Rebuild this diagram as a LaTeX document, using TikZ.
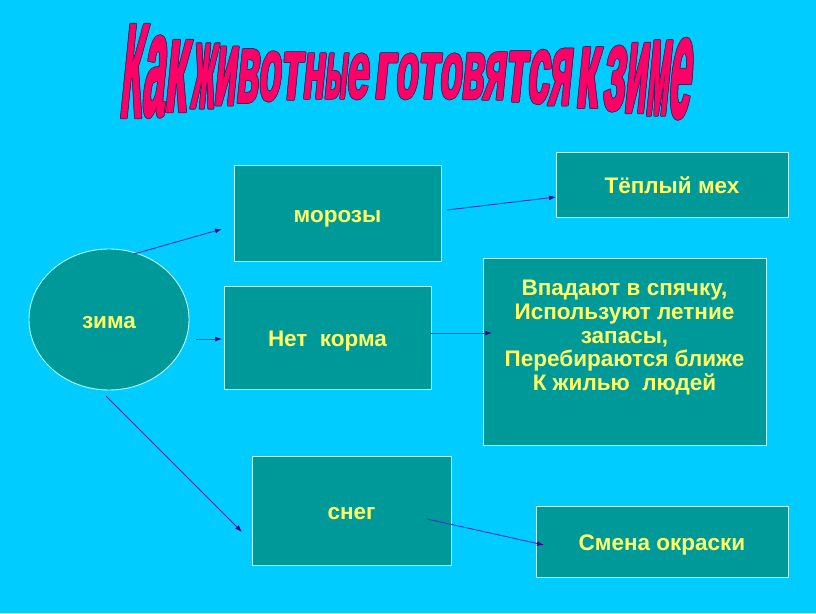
\documentclass[tikz,border=0pt]{standalone}
\usepackage{fontspec}
\usepackage{graphicx}
\setmainfont{Liberation Sans}
\newfontfamily\titlefont[FakeBold=2]{Liberation Sans}
\usepackage{contour}
\usetikzlibrary{arrows.meta,shapes.geometric}
\definecolor{bgcyan}{HTML}{00CCFF}
\definecolor{boxteal}{HTML}{009999}
\definecolor{boxborder}{HTML}{B3FFFF}
\definecolor{txtyellow}{HTML}{FFFF66}
\definecolor{arrowblue}{HTML}{3333CC}
\definecolor{tipviolet}{HTML}{330099}
\definecolor{titlered}{HTML}{FF0066}
\definecolor{titleline}{HTML}{2B2B66}
\contourlength{0.8pt}
\contournumber{8}
% one warped title letter: #1 = lowering, #2 = height, #3 = letter
\newcommand\tlet[3]{\raisebox{-#1pt}{\resizebox{22pt}{#2pt}{#3}}}
\tikzset{
  boxnode/.style={draw=boxborder, line width=0.9pt, fill=boxteal, inner sep=0pt,
    text=txtyellow, font=\bfseries\fontsize{22.5}{23.7}\selectfont,
    text height=22pt, text depth=4pt},
  conn/.style={draw=arrowblue, line width=0.9pt,
    -{Latex[length=7pt,width=5pt,color=tipviolet]}},
}
\begin{document}
\begin{tikzpicture}[x=1pt,y=-1pt]
\fill[bgcyan] (0,0) rectangle (816,613);
\useasboundingbox (0,0) rectangle (816,613);

% title
\node[anchor=base, inner sep=0pt, text=titlered, xslant=0.1, transform shape,
      font=\titlefont\bfseries\fontsize{40}{40}\selectfont] (title) at (408,76)
{\contour{titleline}{\tlet{41}{92}{К}\tlet{39.5}{79}{а}\tlet{35}{70}{к}\hspace{5pt}%
\tlet{31.5}{63}{ж}\tlet{28.5}{57}{и}\tlet{26}{52}{в}\tlet{24}{48}{о}\tlet{23}{46}{т}\tlet{22}{44}{н}\tlet{22}{44}{ы}\tlet{22}{44}{е}\hspace{5pt}%
\tlet{22}{44}{г}\tlet{22}{44}{о}\tlet{22}{44}{т}\tlet{22}{44}{о}\tlet{22.5}{45}{в}\tlet{23}{46}{я}\tlet{25}{49}{т}\tlet{26.5}{52}{с}\tlet{28.5}{55}{я}\hspace{5pt}%
\tlet{31}{59}{к}\hspace{5pt}%
\tlet{33.5}{63}{з}\tlet{36}{68}{и}\tlet{38.5}{73}{м}\tlet{41}{78}{е}}};

% nodes
\node[boxnode, ellipse, minimum width=160pt, minimum height=141pt] (zima) at (109,319.5) {зима};
\node[boxnode, minimum width=207pt, minimum height=96pt] (moroz) at (337.5,213) {морозы};
\node[boxnode, minimum width=207pt, minimum height=103pt] (korm) at (327.5,337.5) {Нет\ \ корма};
\node[boxnode, minimum width=199pt, minimum height=109pt] (sneg) at (351.5,510.5) {снег};
\node[boxnode, minimum width=232pt, minimum height=65pt] (meh) at (672,184.5) {Тёплый мех};
\node[boxnode, minimum width=283pt, minimum height=187pt] (vpad) at (624.5,351.5) {};
\node[anchor=north, inner sep=0pt, align=center, text=txtyellow,
      font=\bfseries\fontsize{22.5}{23.7}\selectfont] (vpadtext) at (624.5,280)
  {Впадают в спячку,\\Используют летние\\запасы,\\Перебираются ближе\\К жилью\ \ людей};
\node[boxnode, minimum width=252pt, minimum height=71pt] (smena) at (662,541.5) {Смена окраски};

% connector end points
\coordinate (a1s) at (134,254); \coordinate (a1e) at (222,229);
\coordinate (a2s) at (196,339); \coordinate (a2e) at (222,339);
\coordinate (a3s) at (106,396); \coordinate (a3e) at (242,532);
\coordinate (a4s) at (447,210); \coordinate (a4e) at (556,197);
\coordinate (a5s) at (430,333); \coordinate (a5e) at (492,333);
\coordinate (a6s) at (427,519); \coordinate (a6e) at (544,545);

\draw[conn] (a1s) -- (a1e);
\draw[conn] (a2s) -- (a2e);
\draw[conn] (a3s) -- (a3e);
\draw[conn] (a4s) -- (a4e);
\draw[conn] (a5s) -- (a5e);
\draw[conn] (a6s) -- (a6e);
\end{tikzpicture}
\end{document}
